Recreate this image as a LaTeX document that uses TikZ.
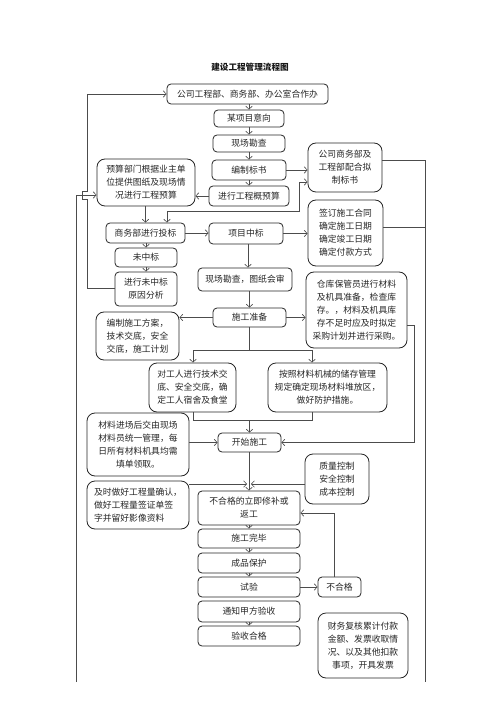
\documentclass[tikz,border=0pt]{standalone}
\usepackage{fontspec}
\newfontfamily\cjk{Noto Sans CJK SC}
\usetikzlibrary{arrows.meta}
\begin{document}
\begin{tikzpicture}[x=1pt,y=-1pt,
  box/.style={draw=black!85, line width=0.8pt, rounded corners=4pt, inner sep=0pt,
    align=center, text=black!85, font=\cjk\fontsize{8.8}{13}\selectfont},
  bigbox/.style={box, rounded corners=8pt},
  ln/.style={draw=black!70, line width=0.6pt},
  arr/.style={ln, -{Straight Barb[length=3pt,width=6.5pt]}},
  arrtwo/.style={ln, {Straight Barb[length=3pt,width=6.5pt]}-{Straight Barb[length=3pt,width=6.5pt]}}]
\useasboundingbox (0,0) rectangle (500,708);
\fill[white] (0,0) rectangle (500,708);

\node[font=\cjk\bfseries\fontsize{8.6}{10}\selectfont, text=black!90] (title) at (250,67) {建设工程管理流程图};

\node[box, minimum width=161pt, minimum height=20pt] (b1) at (247.5,94) {公司工程部、商务部、办公室合作办};
\node[box, minimum width=70pt, minimum height=17pt] (b2) at (249,118.5) {某项目意向};
\node[box, minimum width=72pt, minimum height=17pt] (b3) at (249,143.5) {现场勘查};
\node[box, minimum width=74pt, minimum height=20pt] (b4) at (249,170) {编制标书};
\node[box, minimum width=80pt, minimum height=20pt] (b5) at (249,196) {进行工程概预算};
\node[bigbox, minimum width=98pt, minimum height=47pt] (b6) at (146,182.5) {预算部门根据业主单\\位提供图纸及现场情\\况进行工程预算};
\node[bigbox, minimum width=74pt, minimum height=49pt] (b7) at (345,167.5) {公司商务部及\\工程部配合拟\\制标书};
\node[box, minimum width=79pt, minimum height=20pt] (b8) at (145.5,233) {商务部进行投标};
\node[box, minimum width=74pt, minimum height=21pt] (b9) at (246,233.5) {项目中标};
\node[bigbox, minimum width=75pt, minimum height=66pt] (b10) at (345.5,233) {签订施工合同\\确定施工日期\\确定竣工日期\\确定付款方式};
\node[box, minimum width=62pt, minimum height=19pt] (b11) at (146,257.5) {未中标};
\node[box, minimum width=62pt, minimum height=34pt] (b12) at (146,289) {进行未中标\\原因分析};
\node[box, minimum width=94pt, minimum height=23pt] (b13) at (245,279.5) {现场勘查，图纸会审};
\node[bigbox, minimum width=101pt, minimum height=76pt] (b14) at (356.5,310) {仓库保管员进行材料\\及机具准备，检查库\\存。，材料及机具库\\存不足时应及时拟定\\采购计划并进行采购。};
\node[box, minimum width=73pt, minimum height=19pt] (b15) at (249.5,317.5) {施工准备};
\node[bigbox, minimum width=83pt, minimum height=48pt] (b16) at (137.5,336) {编制施工方案，\\技术交底，安全\\交底，施工计划};
\node[bigbox, minimum width=87pt, minimum height=49pt] (b17) at (192.5,387.5) {对工人进行技术交\\底、安全交底，确\\定工人宿舍及食堂};
\node[bigbox, minimum width=119pt, minimum height=49pt] (b18) at (327.5,387.5) {按照材料机械的储存管理\\规定确定现场材料堆放区，\\做好防护措施。};
\node[bigbox, minimum width=102pt, minimum height=63pt] (b19) at (138,444.5) {材料进场后交由现场\\材料员统一管理，每\\日所有材料机具均需\\填单领取。};
\node[box, minimum width=63pt, minimum height=19pt] (b20) at (249.5,442.5) {开始施工};
\node[bigbox, minimum width=64pt, minimum height=50pt] (b21) at (337,479) {质量控制\\安全控制\\成本控制};
\node[bigbox, minimum width=102pt, minimum height=48pt, align=left] (b22) at (138,505) {及时做好工程量确认，\\做好工程量签证单签\\字并留好影像资料};
\node[box, minimum width=102pt, minimum height=34pt] (b23) at (249,508) {不合格的立即修补或\\返工};
\node[box, minimum width=102pt, minimum height=19pt] (b24) at (249,538.5) {施工完毕};
\node[box, minimum width=102pt, minimum height=20pt] (b25) at (249,563) {成品保护};
\node[box, minimum width=102pt, minimum height=20pt] (b26) at (249,587) {试验};
\node[box, minimum width=43pt, minimum height=20pt] (b27) at (339.5,587) {不合格};
\node[box, minimum width=102pt, minimum height=21pt] (b28) at (249,611.5) {通知甲方验收};
\node[box, minimum width=102pt, minimum height=20pt] (b29) at (249,636) {验收合格};
\node[bigbox, minimum width=90pt, minimum height=65pt] (b30) at (363,645.5) {财务复核累计付款\\金额、发票收取情\\况、以及其他扣款\\事项，开具发票};

% central chain
\draw[arr] (b2.north |- b1.south) -- (b2.north);
\draw[arr] (b2) -- (b3);
\draw[arr] (b3) -- (b4);
\draw[arr] (b4) -- (b5);
\draw[arr] (b4.east) -- (b4.east -| b7.west);
\draw[arr] (b5.west) -- (b5.west -| b6.east);
\draw[arr] (b6.south -| b8.north) -- (b8.north);
\coordinate (j1) at (167,211);
\coordinate (j2) at (299,182);
\draw[arrtwo] (b8.north -| j1) -- (j1) -| (j2) -- (j2 -| b7.west);
\draw[arr] (b8.east) -- (b8.east -| b9.west);
\draw[arr] (b9.east) -- (b9.east -| b10.west);
\draw[arr] (b8.south -| b11.north) -- (b11.north);
\draw[arr] (b11) -- (b12);
\coordinate (c248) at (248,0);
\draw[arr] (b9.south -| c248) -- (b13.north -| c248);
\draw[arr] (b15.north |- b13.south) -- (b15.north);
\draw[arr] (b15.west) -- (b15.west -| b16.east);
\draw[arr] (b15.east) -- (b15.east -| b14.west);
\coordinate (s1) at (193,350);
\coordinate (s2) at (312,350);
\draw[arr] (b15.south) |- (s1) -- (s1 |- b17.north);
\draw[arr] (b15.south |- s2) -- (s2) -- (s2 |- b18.north);
\coordinate (m1) at (193,420);
\coordinate (m2) at (312,420);
\draw[ln] (b17.south -| m1) -- (m1) -- (m2) -- (b18.south -| m2);
\draw[arr] (m1 -| b20.north) -- (b20.north);
\draw[arr] (b20.west -| b19.east) -- (b20.west);
\coordinate (r1) at (414,325);
\draw[arr] (b14.east |- r1) -- (r1) |- (b20.east);
\draw[arr] (b23.north |- b20.south) -- (b23.north);
\coordinate (qL) at (247,484);
\coordinate (qR) at (251,484);
\draw[arr] (b22.east |- qL) -- (qL);
\draw[arr] (b21.west |- qR) -- (qR);
\draw[arr] (b23) -- (b24);
\draw[arr] (b24) -- (b25);
\draw[arr] (b25) -- (b26);
\draw[arr] (b28) -- (b29);
\draw[arr] (b26.east) -- (b26.east -| b27.west);
\coordinate (u) at (334,513);
\draw[arr] (b27.north -| u) -- (u) -- (u -| b23.east);

% right outer line
\coordinate (R1) at (425,160);
\coordinate (R2) at (425,227);
\coordinate (Rend) at (425,682);
\draw[ln] (b7.east |- R1) -- (R1) -- (Rend);
\draw[ln] (b10.east |- R2) -- (R2);

% left outer line
\coordinate (L1) at (76,195);
\coordinate (Lend) at (76,682);
\draw[arr] (Lend) -- (L1) -- (L1 -| b6.west);

% feedback loop from 未中标原因分析 to top
\coordinate (F1) at (87,288);
\coordinate (F2) at (87,94);
\draw[arr] (b12.west |- F1) -- (F1) -- (87,199) -- (82,199) -- (82,191) -- (87,191) -- (F2) -- (F2 -| b1.west);
\end{tikzpicture}
\end{document}
